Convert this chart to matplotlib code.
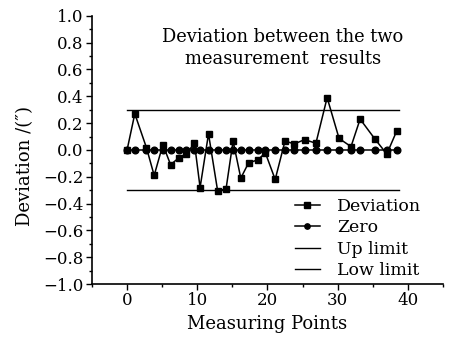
import matplotlib
matplotlib.use("Agg")
import matplotlib.pyplot as plt
from matplotlib.ticker import MultipleLocator

plt.rcParams['font.family'] = ['DejaVu Serif']
plt.rcParams['mathtext.fontset'] = 'dejavuserif'

# measuring point positions
points = [0, 1.1, 2.76, 3.86, 5.1, 6.2, 7.4, 8.4, 9.6, 10.4,
          11.6, 12.9, 14.1, 15.1, 16.2, 17.3, 18.6, 19.7, 21.1, 22.5,
          23.8, 25.3, 26.9, 28.5, 30.2, 31.9, 33.2, 35.3, 37.0, 38.4]
deviation = [0, 0.27, 0.017, -0.19, 0.04, -0.11, -0.057, -0.03, 0.05, -0.28,
             0.12, -0.305, -0.29, 0.067, -0.21, -0.097, -0.074, -0.022, -0.22, 0.067,
             0.045, 0.077, 0.05, 0.39, 0.086, 0.025, 0.23, 0.082, -0.03, 0.14]
zero = [0.0] * len(points)
up_limit = 0.3
low_limit = -0.3
limit_span = [0, 38.7]

fig = plt.figure(figsize=(4.52, 3.37), dpi=100)
ax = fig.add_axes([0.2035, 0.157, 0.7765, 0.796])

ax.plot(points, deviation, color="black", lw=1.1, marker="s", ms=4.8, label="Deviation")
ax.plot(points, zero, color="black", lw=1.1, marker="o", ms=4.8, label="Zero")
ax.plot(limit_span, [up_limit, up_limit], color="black", lw=1.0, label="Up limit")
ax.plot(limit_span, [low_limit, low_limit], color="black", lw=1.0, label="Low limit")

ax.set_xlim(-5, 45)
ax.set_ylim(-1.0, 1.0)
ax.xaxis.set_major_locator(MultipleLocator(10))
ax.xaxis.set_minor_locator(MultipleLocator(5))
ax.yaxis.set_major_locator(MultipleLocator(0.2))
ax.yaxis.set_minor_locator(MultipleLocator(0.1))
ax.yaxis.set_major_formatter(plt.FuncFormatter(lambda v, p: f"{v:.1f}".replace("-", "\u2212")))
ax.tick_params(which="major", length=4, width=1, labelsize=12, direction="out", pad=2)
ax.tick_params(which="minor", length=2.5, width=1, direction="out")

for side in ["top", "right"]:
    ax.spines[side].set_visible(False)
for side in ["left", "bottom"]:
    ax.spines[side].set_linewidth(1.2)

ax.set_xlabel("Measuring Points", fontsize=13, labelpad=4)
ax.set_ylabel("Deviation /(\u2033)", fontsize=13)
ax.yaxis.set_label_coords(-0.165, 0.44)

ax.text(22.2, 0.76, "Deviation between the two\nmeasurement  results",
        ha="center", va="center", fontsize=12.9, linespacing=1.3)

ax.legend(loc="lower right", frameon=False, fontsize=12.5, handlelength=1.4,
          handletextpad=1.0, labelspacing=0.25, borderaxespad=0.05,
          bbox_to_anchor=(0.96, -0.01), markerscale=0.8)

fig.savefig("out.png", dpi=100)
